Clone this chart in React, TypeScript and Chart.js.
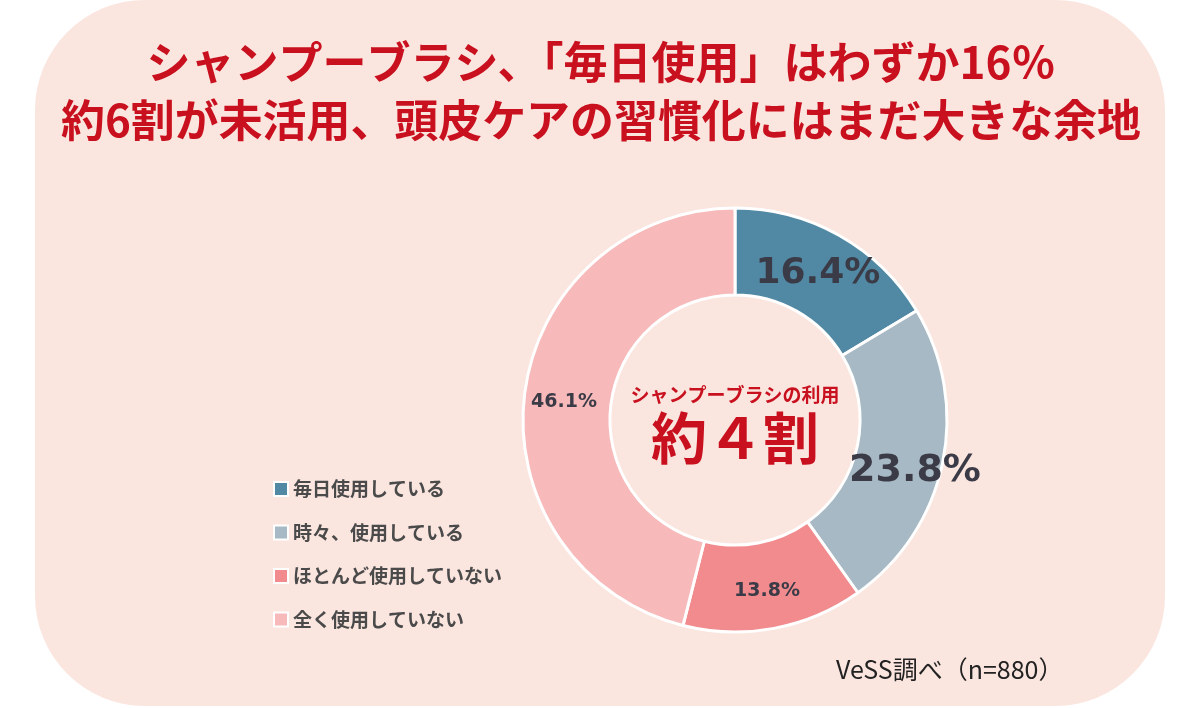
import React, { useEffect, useRef } from "react";
import { Chart, registerables } from "chart.js";

Chart.register(...registerables);

// Survey answers and their shares (%)
const categories = [
  "毎日使用している",
  "時々、使用している",
  "ほとんど使用していない",
  "全く使用していない",
];
const shares = [16.4, 23.8, 13.8, 46.1];
const sliceColors = ["#5189a4", "#a7b9c4", "#f28b8e", "#f7b9b9"];

const titleLines = [
  "シャンプーブラシ、「毎日使用」はわずか16％",
  "約6割が未活用、頭皮ケアの習慣化にはまだ大きな余地",
];
const centerCaption = "シャンプーブラシの利用";
const centerHeadline = "約４割";
const sourceNote = "VeSS調べ（n=880）";

// Per-slice label styling: font size, radial factor, angular shift (deg)
const labelFontSizes = [36, 38, 19, 19];
const labelRadialFactors = [1.0, 1.11, 1.03, 1.02];
const labelAngleShifts = [0, 4, 0, -1];

const RED = "#c8101e";
const JP = '"Noto Sans CJK JP", "Noto Sans", sans-serif';

const backdropPlugin = {
  id: "backdrop",
  beforeDraw(chart: any) {
    const ctx = chart.ctx;
    ctx.save();
    ctx.fillStyle = "#ffffff";
    ctx.fillRect(0, 0, chart.width, chart.height);
    ctx.fillStyle = "#fbe5df";
    ctx.beginPath();
    ctx.roundRect(35, 0, 1130, 706, 110);
    ctx.fill();
    ctx.restore();
  },
};

const decorPlugin = {
  id: "decor",
  afterDatasetsDraw(chart: any) {
    const ctx = chart.ctx;
    const meta = chart.getDatasetMeta(0);
    ctx.save();

    // Title
    ctx.fillStyle = RED;
    ctx.textAlign = "center";
    ctx.textBaseline = "middle";
    ctx.font = `bold 44px ${JP}`;
    ctx.fillText(titleLines[0], 601, 62, 924);
    ctx.fillText(titleLines[1], 601, 120, 1080);

    // Slice value labels
    meta.data.forEach((arc: any, i: number) => {
      const p = arc.getProps(
        ["x", "y", "startAngle", "endAngle", "innerRadius", "outerRadius"],
        true
      );
      const mid = (p.startAngle + p.endAngle) / 2 + (labelAngleShifts[i] * Math.PI) / 180;
      const r = ((p.innerRadius + p.outerRadius) / 2) * labelRadialFactors[i];
      const x = p.x + r * Math.cos(mid);
      const y = p.y + r * Math.sin(mid);
      ctx.font = `bold ${labelFontSizes[i]}px "DejaVu Sans", sans-serif`;
      ctx.fillStyle = "#3b3b47";
      ctx.fillText(`${shares[i].toFixed(1)}%`, x, y);
    });

    // Centre text
    const c = meta.data[0];
    ctx.fillStyle = RED;
    ctx.font = `bold 19px ${JP}`;
    ctx.fillText(centerCaption, c.x, c.y - 25);
    ctx.font = `bold 56px ${JP}`;
    ctx.fillText(centerHeadline, c.x, c.y + 18);

    // Legend
    const labels: string[] = chart.data.labels;
    const colors: string[] = chart.data.datasets[0].backgroundColor;
    ctx.textAlign = "left";
    labels.forEach((lab, i) => {
      const y = 489 + i * 43.5;
      ctx.fillStyle = "#ffffff";
      ctx.fillRect(273, y - 8, 16, 16);
      ctx.fillStyle = colors[i];
      ctx.fillRect(275, y - 6, 12, 12);
      ctx.fillStyle = "#4a4a4a";
      ctx.font = `bold 19px ${JP}`;
      ctx.fillText(lab, 293, y);
    });

    // Source note
    ctx.fillStyle = "#222222";
    ctx.font = `25px ${JP}`;
    ctx.fillText(sourceNote, 836, 669);

    ctx.restore();
  },
};

export default function App() {
  const ref = useRef<HTMLCanvasElement | null>(null);

  useEffect(() => {
    if (!ref.current) return;
    const chart = new Chart(ref.current, {
      type: "doughnut",
      data: {
        labels: categories,
        datasets: [
          {
            data: shares,
            backgroundColor: sliceColors,
            borderColor: "#ffffff",
            borderWidth: 3,
          },
        ],
      },
      options: {
        responsive: false,
        animation: false,
        radius: 212,
        cutout: "59%",
        layout: { padding: { left: 485, right: 215, top: 170, bottom: 38 } },
        plugins: {
          legend: { display: false },
          title: { display: false },
          tooltip: { enabled: false },
        },
      } as any,
      plugins: [backdropPlugin, decorPlugin],
    });
    return () => chart.destroy();
  }, []);

  return (
    <div style={{ position: "absolute", left: 0, top: 0, width: 1200, height: 708 }}>
      <canvas ref={ref} width={1200} height={708} />
    </div>
  );
}
